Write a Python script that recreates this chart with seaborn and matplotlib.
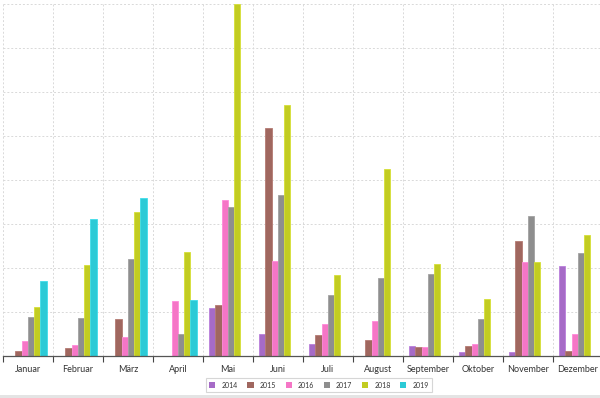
import numpy as np
import pandas as pd
import matplotlib
matplotlib.use("Agg")
import matplotlib.pyplot as plt
import seaborn as sns
from matplotlib.patches import Patch

months = ["Januar", "Februar", "März", "April", "Mai", "Juni", "Juli",
          "August", "September", "Oktober", "November", "Dezember"]
years = ["2014", "2015", "2016", "2017", "2018", "2019"]

v2014 = [0.0, 0.0, 0.0, 0.0, 1.10, 0.50, 0.27, 0.0, 0.23, 0.10, 0.09, 2.06]
v2015 = [0.12, 0.18, 0.85, 0.0, 1.17, 5.18, 0.48, 0.36, 0.21, 0.23, 2.63, 0.12]
v2016 = [0.35, 0.26, 0.43, 1.25, 3.55, 2.17, 0.73, 0.81, 0.21, 0.27, 2.15, 0.50]
v2017 = [0.90, 0.87, 2.21, 0.51, 3.40, 3.67, 1.40, 1.78, 1.88, 0.85, 3.20, 2.35]
v2018 = [1.11, 2.07, 3.28, 2.38, 8.00, 5.71, 1.85, 4.26, 2.10, 1.31, 2.15, 2.75]
v2019 = [1.71, 3.11, 3.59, 1.27, 0.0, 0.0, 0.0, 0.0, 0.0, 0.0, 0.0, 0.0]

colors = ["#a66bc7", "#a0675f", "#f576c6", "#8e8e8e", "#c2cc22", "#2ccad6"]

series = [v2014, v2015, v2016, v2017, v2018, v2019]
rows = []
for y, vals in zip(years, series):
    for m, v in zip(months, vals):
        rows.append({"Monat": m, "Jahr": y, "Wert": v})
df = pd.DataFrame(rows)

sns.set_theme(style="white")
plt.rcParams["font.family"] = ["Lato", "DejaVu Sans"]

fig = plt.figure(figsize=(6.0, 3.98), dpi=100)
ax = fig.add_axes([3 / 600, (398 - 356.3) / 398, 600 / 600, (356.3 - 4.3) / 398])

sns.barplot(data=df, x="Monat", y="Wert", hue="Jahr", order=months,
            hue_order=years, palette=colors, width=0.75, saturation=1,
            errorbar=None, ax=ax, legend=False, linewidth=0.6,
            edgecolor="none")
for p in ax.patches:
    fc = p.get_facecolor()
    p.set_edgecolor((min(fc[0] + 0.08, 1), min(fc[1] + 0.08, 1), min(fc[2] + 0.08, 1), 1))

ax.set_ylim(0, 8)
ax.set_xlim(-0.5, 11.5)
ax.set_xlabel("")
ax.set_ylabel("")
ax.set_yticks(np.arange(0, 9, 1))
ax.set_yticklabels([])
ax.tick_params(axis="y", length=0)
ax.set_xticks(np.arange(-0.5, 12, 1), minor=True)
ax.tick_params(axis="x", which="major", length=0, labelsize=6.5,
               labelcolor="#333333", pad=6)
ax.tick_params(axis="x", which="minor", length=4, width=0.8,
               color="#444444", direction="out", bottom=True)
ax.yaxis.grid(True, which="major", color="#d9d9d9", linestyle=(0, (2, 2)), linewidth=0.7)
ax.xaxis.grid(True, which="minor", color="#d9d9d9", linestyle=(0, (2, 2)), linewidth=0.7)
ax.xaxis.grid(False, which="major")
ax.set_axisbelow(True)
for s in ["top", "right", "left"]:
    ax.spines[s].set_visible(False)
ax.spines["bottom"].set_color("#555555")
ax.spines["bottom"].set_linewidth(0.9)

handles = [Patch(facecolor=c, edgecolor="none") for c in colors]
leg = fig.legend(handles, years, loc="center", bbox_to_anchor=(319 / 600, 1 - 385 / 398),
                 ncol=6, fontsize=5, frameon=True, handlelength=0.9, handleheight=0.9,
                 handletextpad=0.9, columnspacing=1.35, borderpad=0.5)
leg.get_frame().set_edgecolor("#cccccc")
leg.get_frame().set_linewidth(0.8)
leg.get_frame().set_boxstyle("square", pad=0)
for t in leg.get_texts():
    t.set_color("#333333")

fig.patches.append(plt.Rectangle((0, 0), 1, 3 / 398, transform=fig.transFigure,
                                 facecolor="#e4e4e4", edgecolor="none", zorder=0))

fig.savefig("out.png", dpi=100)
